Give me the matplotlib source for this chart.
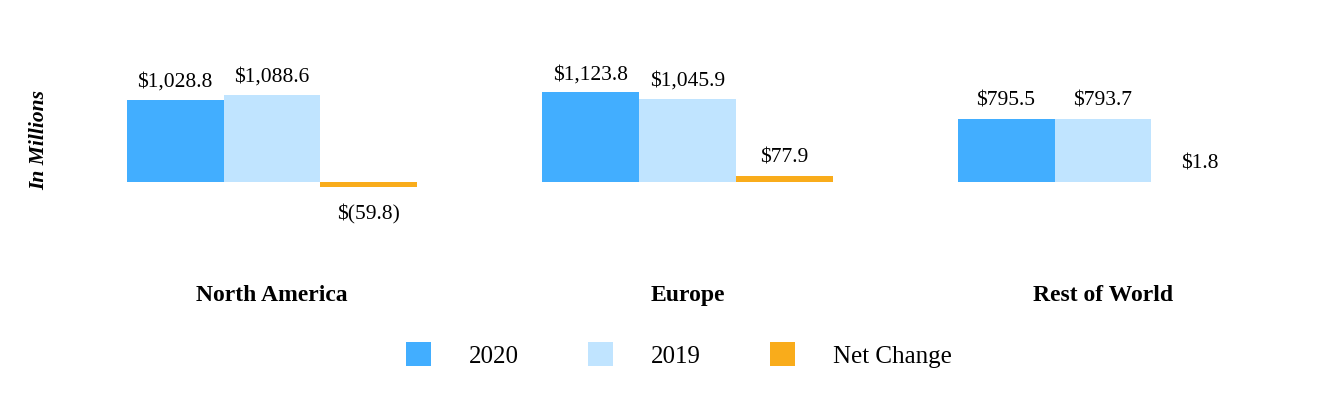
import matplotlib
matplotlib.use("Agg")
import matplotlib.pyplot as plt
import numpy as np

categories = ["North America", "Europe", "Rest of World"]
series_names = ["2020", "2019", "Net Change"]
values_2020 = [1028.8, 1123.8, 795.5]
values_2019 = [1088.6, 1045.9, 793.7]
values_net = [-59.8, 77.9, 1.8]
labels_2020 = ["$1,028.8", "$1,123.8", "$795.5"]
labels_2019 = ["$1,088.6", "$1,045.9", "$793.7"]
labels_net = ["$(59.8)", "$77.9", "$1.8"]
colors = ["#42AEFF", "#C0E4FF", "#F9AC1B"]

plt.rcParams['font.family'] = ['Liberation Serif', 'DejaVu Serif']

W, H = 1332, 400
fig = plt.figure(figsize=(W / 100, H / 100), dpi=100)
# axes in pixel coordinates
left_px, right_px = 64.25, 1310.75
top_px, bot_px = 40, 270
ax = fig.add_axes([left_px / W, 1 - bot_px / H, (right_px - left_px) / W, (bot_px - top_px) / H])

x = np.arange(len(categories))
bw = 0.2334
series = [values_2020, values_2019, values_net]
labels = [labels_2020, labels_2019, labels_net]
handles = []
for i, (vals, labs, c, name) in enumerate(zip(series, labels, colors, series_names)):
    xs = x + (i - 1) * bw
    bars = ax.bar(xs, vals, width=bw, color=c, label=name, linewidth=0)
    handles.append(bars)
    for xi, v, lab in zip(xs, vals, labs):
        if v >= 0:
            ax.annotate(lab, (xi, v), xytext=(0, 6), textcoords='offset points',
                        ha='center', va='bottom', fontsize=15.5)
        else:
            ax.annotate(lab, (xi, v), xytext=(0, -12.5), textcoords='offset points',
                        ha='center', va='top', fontsize=15.5)

scale = 1028.8 / 82.0  # units per pixel
ax.set_xlim(-0.5, 2.5)
ax.set_ylim(-(bot_px - 182) * scale, (182 - top_px) * scale)
ax.set_xticks(x)
ax.set_xticklabels(categories, fontsize=17, fontweight='bold')
ax.tick_params(axis='x', length=0, pad=10.5)
ax.set_yticks([])
for s in ax.spines.values():
    s.set_visible(False)

fig.text(39 / W, 1 - 140 / H, "In Millions", rotation=90, ha='center', va='center',
         fontsize=15.5, fontweight='bold', fontstyle='italic')

fig.legend(handles=handles, labels=series_names, loc='center', bbox_to_anchor=(679 / W, 1 - 355 / H),
           ncol=3, frameon=False, fontsize=18, handlelength=1.0, handleheight=1.04,
           handletextpad=1.52, columnspacing=2.75, borderpad=0)

fig.savefig("out.png", dpi=100)
